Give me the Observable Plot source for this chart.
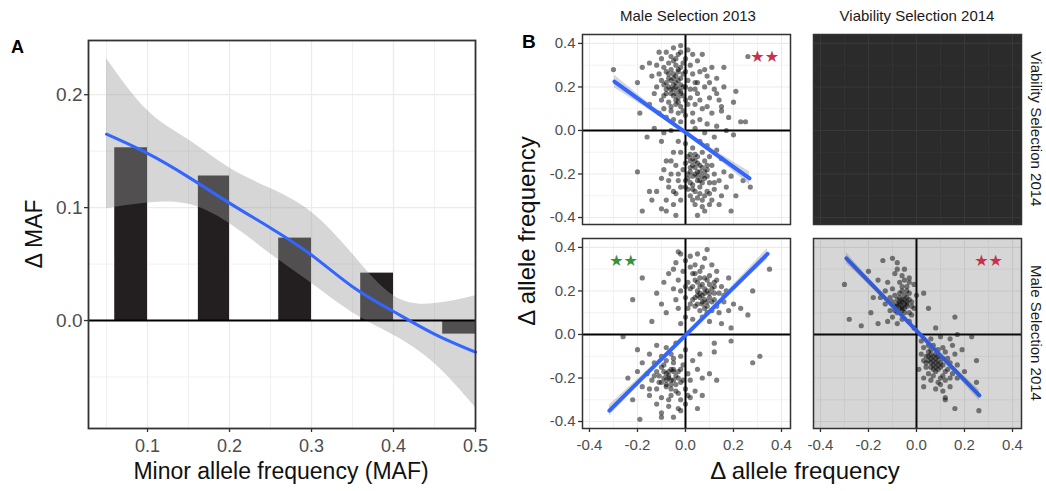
<!DOCTYPE html>
<html><head><meta charset="utf-8">
<script src="https://cdn.jsdelivr.net/npm/d3@7"></script>
<script src="https://cdn.jsdelivr.net/npm/@observablehq/plot@0.6"></script>
<style>
body{margin:0;background:#fff;}
#root{position:relative;width:1046px;height:491px;overflow:hidden;background:#fff;font-family:"Liberation Sans",Arial,sans-serif;}
#root svg{position:absolute;overflow:visible;}
</style></head><body><div id="root"></div>
<script>
// ---------- Panel A data ----------
const barStart = [0.06, 0.162, 0.26, 0.36, 0.46];
const barEnd   = [0.10, 0.20, 0.30, 0.40, 0.50];
const barDeltaMAF = [0.153, 0.128, 0.073, 0.042, -0.012];
const smoothX  = [0.05, 0.10, 0.15, 0.20, 0.25, 0.30, 0.35, 0.40, 0.45, 0.50];
const smoothY  = [0.165, 0.148, 0.127, 0.104, 0.082, 0.058, 0.030, 0.008, -0.012, -0.028];
const smoothHi = [0.232, 0.186, 0.160, 0.135, 0.117, 0.096, 0.059, 0.022, 0.015, 0.022];
const smoothLo = [0.099, 0.104, 0.103, 0.086, 0.059, 0.033, 0.007, -0.013, -0.038, -0.077];
const aTicksX = [0.1, 0.2, 0.3, 0.4, 0.5];
const aMinorX = [0.05, 0.15, 0.25, 0.35, 0.45];
const aTicksY = [0.0, 0.1, 0.2];
const aMinorY = [-0.05, 0.05, 0.15];

// ---------- Panel B data ----------
const colTitles = ["Male Selection 2013", "Viability Selection 2014"];
const rowTitles = ["Viability Selection 2014", "Male Selection 2014"];
const bTicks = [-0.4, -0.2, 0.0, 0.2, 0.4];
const bMinor = [-0.3, -0.1, 0.1, 0.3];

// x = Male Selection 2013, y = Viability Selection 2014
const tlPoints = [
[-0.08,0.36],[-0.05,0.38],[-0.02,0.39],[0.01,0.37],[-0.1,0.33],[-0.06,0.34],[-0.03,0.35],[0.0,0.33],[0.03,0.35],[-0.12,0.3],[-0.09,0.29],[-0.07,0.31],[-0.04,0.3],[-0.01,0.31],[0.02,0.3],
[-0.11,0.26],[-0.08,0.27],[-0.05,0.26],[-0.03,0.28],[0.0,0.27],[0.03,0.26],[-0.1,0.23],[-0.07,0.24],[-0.04,0.22],[-0.02,0.24],[0.01,0.23],[0.04,0.22],
[-0.12,0.2],[-0.09,0.21],[-0.06,0.19],[-0.04,0.2],[-0.02,0.18],[0.0,0.2],[0.02,0.19],[-0.08,0.17],[-0.05,0.16],[-0.03,0.15],[-0.01,0.16],[0.02,0.15],
[-0.1,0.14],[-0.07,0.13],[-0.04,0.12],[-0.02,0.11],[0.01,0.12],[-0.09,0.1],[-0.06,0.09],[-0.03,0.08],[0.0,0.07],[-0.05,0.05],[-0.02,0.04],[-0.08,0.06],[-0.11,0.08],
[-0.13,0.17],[-0.14,0.25],[-0.06,0.28],[-0.04,0.25],[-0.05,0.21],[-0.03,0.19],[-0.07,0.2],[-0.02,0.21],[-0.06,0.23],[-0.01,0.26],[-0.04,0.17],
[-0.05,0.24],[-0.03,0.23],[-0.05,0.19],[-0.02,0.17],[-0.04,0.14],[-0.06,0.17],[-0.01,0.2],[-0.03,0.27],[-0.07,0.26],[-0.02,0.29],[-0.05,0.32],[-0.08,0.22],[-0.03,0.13],[-0.06,0.11],[-0.01,0.09],[0.0,0.14],[-0.08,0.19],[-0.04,0.33],[-0.09,0.16],[-0.02,0.36],
[0.05,0.32],[0.07,0.35],[0.11,0.29],[0.16,0.29],[0.06,0.27],[0.09,0.25],[0.13,0.24],[0.05,0.22],[0.08,0.2],[0.12,0.19],[0.16,0.2],[0.21,0.18],[0.05,0.17],[0.1,0.15],[0.14,0.14],[0.2,0.13],[0.04,0.12],[0.07,0.1],[0.11,0.08],[0.15,0.09],[0.18,0.06],[0.06,0.05],[0.09,0.03],[0.13,0.02],[0.17,0.0],[0.23,0.04],[0.25,0.04],[0.04,0.01],[0.08,-0.01],[0.12,-0.03],[0.2,-0.02],[0.03,0.08],
[0.08,0.28],[0.1,0.22],[0.04,0.19],[0.06,0.14],[0.13,0.17],[0.09,0.11],[0.03,0.04],[0.15,0.11],
[-0.3,0.28],[-0.18,0.29],[-0.15,0.31],[-0.2,0.22],[-0.19,0.08],[-0.16,-0.03],[-0.13,0.01],[-0.11,0.36],[-0.15,0.12],[0.26,0.34],
[0.0,-0.06],[0.03,-0.08],[0.06,-0.05],[0.09,-0.07],[-0.02,-0.1],[0.01,-0.12],[0.04,-0.11],[0.07,-0.1],[0.1,-0.12],[0.13,-0.09],[0.0,-0.15],[0.02,-0.14],[0.05,-0.15],[0.08,-0.14],[0.11,-0.16],[0.15,-0.13],
[-0.01,-0.18],[0.02,-0.19],[0.04,-0.17],[0.06,-0.19],[0.09,-0.18],[0.12,-0.2],[0.16,-0.19],[0.01,-0.22],[0.03,-0.21],[0.05,-0.23],[0.08,-0.22],[0.1,-0.24],[0.14,-0.23],[0.19,-0.21],
[0.0,-0.26],[0.03,-0.27],[0.06,-0.26],[0.09,-0.28],[0.12,-0.27],[0.17,-0.26],[0.02,-0.3],[0.05,-0.31],[0.08,-0.3],[0.11,-0.32],[0.15,-0.3],[0.04,-0.34],[0.07,-0.35],[0.1,-0.34],[0.14,-0.34],[0.05,-0.39],[0.19,-0.37],[0.08,-0.37],
[0.03,-0.16],[0.04,-0.2],[0.06,-0.16],[0.02,-0.24],[0.07,-0.24],[0.27,-0.26],[0.24,-0.23],[0.21,-0.3],[0.05,-0.19],[0.07,-0.21],[0.03,-0.13],
[0.02,-0.17],[0.04,-0.14],[0.05,-0.21],[0.03,-0.25],[0.06,-0.23],[0.01,-0.2],[0.08,-0.19],[0.07,-0.17],[0.04,-0.28],[0.06,-0.29],[0.02,-0.11],[0.05,-0.12],[0.09,-0.21],[0.01,-0.27],[0.1,-0.29],[0.03,-0.32],[0.07,-0.32],[0.0,-0.23],[0.09,-0.16],[0.12,-0.24],
[-0.03,-0.05],[-0.05,-0.1],[-0.08,-0.14],[-0.04,-0.16],[-0.06,-0.2],[-0.1,-0.22],[-0.03,-0.23],[-0.07,-0.26],[-0.12,-0.28],[-0.04,-0.29],[-0.08,-0.32],[-0.14,-0.32],[-0.05,-0.34],[-0.1,-0.36],[-0.04,-0.39],[-0.2,-0.19],[-0.18,-0.37],[-0.15,-0.28],[-0.02,-0.32],[-0.09,-0.18],[-0.1,-0.05],[-0.06,0.0],[-0.09,-0.01],
[-0.07,-0.23],[-0.05,-0.28],[-0.02,-0.26],[-0.06,-0.14],[-0.03,-0.2],[-0.08,-0.37]
];
// x = Male Selection 2013, y = Male Selection 2014
const blPoints = [
[-0.02,0.37],[0.02,0.36],[0.05,0.37],[0.08,0.35],[-0.04,0.33],[0.0,0.34],[0.04,0.32],[0.07,0.31],[0.11,0.32],[-0.05,0.3],[-0.01,0.29],[0.03,0.28],[0.06,0.29],[0.1,0.27],[0.13,0.29],
[-0.03,0.25],[0.01,0.24],[0.04,0.25],[0.07,0.23],[0.09,0.25],[0.12,0.24],[0.15,0.22],[-0.05,0.21],[-0.02,0.2],[0.02,0.21],[0.05,0.2],[0.08,0.19],[0.11,0.21],[0.14,0.19],[0.17,0.2],
[-0.04,0.16],[0.0,0.17],[0.03,0.16],[0.06,0.17],[0.09,0.15],[0.12,0.16],[0.16,0.15],[0.2,0.14],[-0.03,0.12],[0.01,0.12],[0.04,0.13],[0.06,0.11],[0.08,0.12],[0.11,0.11],[0.14,0.1],[0.18,0.11],
[0.0,0.08],[0.03,0.07],[0.07,0.08],[0.1,0.06],[0.15,0.05],[-0.02,0.05],[0.05,0.14],[0.07,0.18],[0.09,0.2],[0.06,0.22],[0.1,0.17],[0.13,0.13],[0.08,0.16],[0.05,0.18],[0.12,0.19],[0.07,0.14],
[0.06,0.19],[0.08,0.21],[0.1,0.19],[0.04,0.17],[0.07,0.15],[0.09,0.13],[0.11,0.15],[0.03,0.22],[0.05,0.24],[0.08,0.26],[0.12,0.22],[0.1,0.23],[0.04,0.28],[0.02,0.14],[0.06,0.26],[0.13,0.25],[0.02,0.31],[0.0,0.22],[0.09,0.1],[0.16,0.18],
[0.18,0.26],[0.23,0.12],[0.26,0.09],[0.28,0.2],[0.35,0.3],[0.19,0.03],[0.12,-0.08],[0.19,-0.03],[0.31,-0.1],[0.28,-0.13],[0.13,-0.21],[0.09,0.39],[-0.03,0.38],
[-0.22,0.16],[-0.18,0.26],[-0.14,0.06],[-0.12,0.19],[-0.09,0.24],[-0.1,0.14],[-0.07,0.28],[-0.08,0.1],
[-0.12,-0.05],[-0.08,-0.06],[-0.04,-0.04],[-0.15,-0.09],[-0.1,-0.1],[-0.06,-0.09],[-0.02,-0.1],[-0.18,-0.13],[-0.13,-0.13],[-0.09,-0.14],[-0.05,-0.13],[-0.01,-0.14],[0.03,-0.12],
[-0.2,-0.17],[-0.16,-0.18],[-0.12,-0.17],[-0.08,-0.18],[-0.06,-0.16],[-0.03,-0.17],[0.01,-0.18],[0.05,-0.16],[-0.14,-0.21],[-0.1,-0.22],[-0.07,-0.2],[-0.05,-0.21],[-0.02,-0.22],[0.02,-0.21],[0.07,-0.2],
[-0.18,-0.24],[-0.12,-0.25],[-0.08,-0.24],[-0.04,-0.26],[0.0,-0.25],[0.04,-0.26],[-0.15,-0.28],[-0.1,-0.29],[-0.06,-0.28],[-0.02,-0.3],[0.02,-0.29],[-0.12,-0.32],[-0.07,-0.33],[-0.03,-0.34],[0.0,-0.32],
[-0.1,-0.36],[-0.05,-0.38],[-0.19,-0.39],[-0.1,-0.38],[0.05,-0.34],[-0.22,-0.3],[-0.24,-0.2],[-0.26,-0.01],[-0.2,-0.07],[-0.09,-0.2],[-0.07,-0.17],[-0.04,-0.19],[-0.06,-0.23],[-0.08,-0.21],[-0.05,-0.17],[-0.11,-0.19],
[-0.07,-0.19],[-0.05,-0.16],[-0.09,-0.17],[-0.03,-0.2],[-0.06,-0.21],[-0.08,-0.23],[-0.04,-0.23],[-0.1,-0.15],[-0.02,-0.16],[-0.06,-0.25],[-0.11,-0.22],[-0.03,-0.27],[-0.07,-0.3],[-0.01,-0.21],[-0.13,-0.19],[-0.05,-0.11],[-0.08,-0.12],[-0.02,-0.35],[0.01,-0.28],[-0.15,-0.25],
[0.06,-0.09],[0.1,-0.18],[0.07,-0.28],[0.12,-0.04],[0.0,-0.07]
];
// x = Viability Selection 2014, y = Male Selection 2014
const brPoints = [
[-0.1,0.35],[-0.08,0.33],[-0.05,0.3],[-0.09,0.28],[-0.06,0.27],[-0.03,0.26],[-0.12,0.24],[-0.07,0.24],[-0.04,0.22],[-0.01,0.23],[-0.13,0.2],[-0.1,0.21],[-0.06,0.2],[-0.03,0.19],[0.0,0.18],
[-0.15,0.17],[-0.11,0.17],[-0.08,0.16],[-0.05,0.16],[-0.02,0.15],[-0.13,0.14],[-0.09,0.13],[-0.07,0.14],[-0.04,0.13],[-0.01,0.12],[-0.11,0.11],[-0.08,0.1],[-0.06,0.11],[-0.03,0.1],[-0.1,0.08],[-0.06,0.07],[-0.03,0.06],[-0.08,0.05],[-0.12,0.06],
[-0.05,0.12],[-0.07,0.12],[-0.06,0.15],[-0.04,0.17],[-0.09,0.18],[-0.02,0.09],[-0.01,0.03],[-0.05,0.14],[-0.08,0.13],[-0.06,0.13],[-0.04,0.15],[-0.07,0.17],
[-0.06,0.16],[-0.05,0.18],[-0.07,0.15],[-0.04,0.14],[-0.06,0.12],[-0.08,0.14],[-0.03,0.16],[-0.05,0.1],[-0.09,0.11],[-0.07,0.19],[-0.04,0.2],[-0.1,0.15],[-0.02,0.13],[-0.06,0.22],[-0.03,0.24],[-0.08,0.3],[-0.05,0.25],
[-0.3,0.23],[-0.28,0.07],[-0.23,0.04],[-0.2,0.29],[-0.14,0.34],[-0.19,0.1],[-0.16,0.05],[0.03,0.19],[0.05,0.12],[0.16,0.08],[0.08,0.03],[-0.16,0.25],[-0.18,0.17],
[0.02,-0.03],[0.06,-0.02],[0.1,-0.01],[0.14,-0.02],[0.17,0.0],[0.03,-0.06],[0.07,-0.05],[0.11,-0.06],[0.15,-0.05],[0.02,-0.09],[0.05,-0.08],[0.08,-0.09],[0.12,-0.08],[0.16,-0.09],
[0.03,-0.12],[0.06,-0.11],[0.09,-0.12],[0.11,-0.11],[0.14,-0.13],[0.04,-0.15],[0.07,-0.14],[0.1,-0.15],[0.13,-0.16],[0.17,-0.14],[0.05,-0.18],[0.08,-0.17],[0.11,-0.19],[0.15,-0.18],
[0.06,-0.21],[0.09,-0.22],[0.12,-0.21],[0.17,-0.2],[0.08,-0.25],[0.11,-0.26],[0.14,-0.24],[0.12,-0.29],[0.06,-0.13],[0.08,-0.11],[0.05,-0.1],[0.07,-0.16],[0.09,-0.14],[0.1,-0.1],[0.07,-0.12],[0.09,-0.1],[0.06,-0.15],
[0.07,-0.1],[0.08,-0.13],[0.06,-0.09],[0.09,-0.16],[0.05,-0.12],[0.1,-0.13],[0.04,-0.1],[0.08,-0.15],[0.11,-0.14],[0.06,-0.07],[0.12,-0.17],[0.07,-0.19],[0.1,-0.2],[0.04,-0.13],[0.13,-0.11],[0.09,-0.07],[0.14,-0.2],[0.1,-0.23],[0.05,-0.05],
[0.26,-0.35],[0.16,-0.34],[0.12,-0.3],[0.25,-0.22],[0.25,-0.12],[0.03,-0.24],[0.03,-0.2],[0.23,-0.01],[0.19,-0.07],[0.2,-0.17],[0.01,-0.16]
];
// linear fits with confidence band
const tlFit = {x:[-0.296,-0.15,0,0.13,0.267], y:[0.225,0.109,-0.009,-0.112,-0.22], lo:[0.195,0.094,-0.019,-0.127,-0.25], hi:[0.255,0.124,0.001,-0.097,-0.19]};
const blFit = {x:[-0.317,-0.15,0,0.17,0.342], y:[-0.35,-0.1675,-0.004,0.182,0.37], lo:[-0.375,-0.18,-0.012,0.169,0.345], hi:[-0.325,-0.155,0.004,0.195,0.395]};
const brFit = {x:[-0.292,-0.15,0,0.13,0.262], y:[0.35,0.1885,0.018,-0.13,-0.28], lo:[0.325,0.176,0.01,-0.142,-0.305], hi:[0.375,0.201,0.026,-0.118,-0.255]};
// significance annotations
const starLabels = {tl:"★★", bl:"★★", br:"★★"};
const starX = {tl:0.33, bl:-0.258, br:0.30};
const starY = {tl:0.336, bl:0.34, br:0.336};
const starSign = {tl:-1, bl:1, br:-1};

// ---------- drawing ----------
const root = document.getElementById("root");
const FONT = '"Liberation Sans", Arial, sans-serif';
const TICK = "#4d4d4d";
const fmt1 = d => d.toFixed(1);

// Panel A
const A = {left: 88, top: 40, w: 387, h: 388};
const bars = barStart.map((s, i) => ({x1: s, x2: barEnd[i], v: barDeltaMAF[i]}));
const smooth = smoothX.map((x, i) => ({x, y: smoothY[i], lo: smoothLo[i], hi: smoothHi[i]}));
const aSvg = Plot.plot({
  width: A.left + A.w + 25, height: A.top + A.h + 63,
  marginLeft: A.left, marginRight: 25, marginTop: A.top, marginBottom: 63,
  x: {domain: [0.028, 0.5]}, y: {domain: [-0.0956, 0.248]},
  style: {background: "transparent", fontFamily: FONT},
  marks: [
    Plot.gridX(aMinorX, {stroke: "#ebebeb", strokeOpacity: 1, strokeWidth: 0.7}),
    Plot.gridX(aTicksX, {stroke: "#ebebeb", strokeOpacity: 1, strokeWidth: 1.3}),
    Plot.gridY(aMinorY, {stroke: "#ebebeb", strokeOpacity: 1, strokeWidth: 0.7}),
    Plot.gridY(aTicksY, {stroke: "#ebebeb", strokeOpacity: 1, strokeWidth: 1.3}),
    Plot.rectY(bars, {x1: "x1", x2: "x2", y: "v", fill: "#231f20"}),
    Plot.areaY(smooth, {x: "x", y1: "lo", y2: "hi", fill: "#999999", fillOpacity: 0.4, curve: "natural"}),
    Plot.ruleY([0], {stroke: "#000", strokeWidth: 2}),
    Plot.line(smooth, {x: "x", y: "y", stroke: "#3366FF", strokeWidth: 3, curve: "natural"}),
    Plot.frame({stroke: "#333", strokeWidth: 1.8}),
    Plot.axisX(aTicksX, {tickSize: 4, tickPadding: 7, fontSize: 18, fill: TICK, stroke: "#333", strokeWidth: 1.3, tickFormat: fmt1, label: null}),
    Plot.axisY(aTicksY, {tickSize: 4, tickPadding: 2, fontSize: 19, fill: TICK, stroke: "#333", strokeWidth: 1.3, tickFormat: fmt1, label: null})
  ]
});
aSvg.style.left = "0px"; aSvg.style.top = "0px";
root.appendChild(aSvg);

// Panel B facets
const PW = 208, PH = 190;
const xDom = [-0.429, 0.4375], yDom = [-0.432, 0.441];
function toRows(f) { return f.x.map((x, i) => ({x, y: f.y[i], lo: f.lo[i], hi: f.hi[i]})); }

function facet(cfg) {
  const ml = cfg.showY ? 50 : 3, mb = cfg.showX ? 34 : 3, mt = 3, mr = 3;
  const gridC = cfg.empty ? "#383838" : "#ebebeb";
  const marks = [];
  if (cfg.empty) marks.push(Plot.frame({fill: "#2b2b2b", stroke: "none"}));
  marks.push(
    Plot.gridX(bMinor, {stroke: gridC, strokeOpacity: 1, strokeWidth: 0.6}),
    Plot.gridX(bTicks, {stroke: gridC, strokeOpacity: 1, strokeWidth: 1.1}),
    Plot.gridY(bMinor, {stroke: gridC, strokeOpacity: 1, strokeWidth: 0.6}),
    Plot.gridY(bTicks, {stroke: gridC, strokeOpacity: 1, strokeWidth: 1.1})
  );
  if (!cfg.empty) {
    const fit = toRows(cfg.fit);
    marks.push(
      Plot.dot(cfg.points, {x: d => d[0], y: d => d[1], r: 2.6, fill: "#000", fillOpacity: 0.5, stroke: "none"}),
      Plot.ruleX([0], {stroke: "#000", strokeWidth: 2}),
      Plot.ruleY([0], {stroke: "#000", strokeWidth: 2}),
      Plot.areaY(fit, {x: "x", y1: "lo", y2: "hi", fill: "#999999", fillOpacity: 0.4, curve: "natural"}),
      Plot.line(fit, {x: "x", y: "y", stroke: "#3366FF", strokeWidth: 4})
    );
  }
  if (cfg.shade) marks.push(Plot.frame({fill: "#333", fillOpacity: 0.2, stroke: "none"}));
  if (cfg.star) {
    const k = cfg.star;
    marks.push(Plot.text([k], {x: d => starX[d], y: d => starY[d], text: d => starLabels[d],
      fill: starSign[k] > 0 ? "#3a8f3a" : "#c9304f", fontSize: 16, fontFamily: "DejaVu Sans", letterSpacing: 1}));
  }
  marks.push(Plot.frame({stroke: "#333", strokeWidth: 1.5}));
  if (cfg.showY) marks.push(Plot.axisY(bTicks, {tickSize: 4, tickPadding: 3, fontSize: 15, fill: TICK, stroke: "#333", strokeWidth: 1.3, tickFormat: fmt1, label: null}));
  if (cfg.showX) marks.push(Plot.axisX(bTicks, {tickSize: 4, tickPadding: 7, fontSize: 15, fill: TICK, stroke: "#333", strokeWidth: 1.3, tickFormat: fmt1, label: null}));
  const svg = Plot.plot({
    width: PW + ml + mr, height: PH + mt + mb,
    marginLeft: ml, marginRight: mr, marginTop: mt, marginBottom: mb,
    x: {domain: xDom, axis: cfg.showX ? undefined : null},
    y: {domain: yDom, axis: cfg.showY ? undefined : null},
    style: {background: "transparent", fontFamily: FONT},
    marks
  });
  svg.style.left = (cfg.left - ml) + "px";
  svg.style.top = (cfg.top - mt) + "px";
  root.appendChild(svg);
}
const colLeft = [582, 813], rowTop = [34, 238];
facet({left: colLeft[0], top: rowTop[0], points: tlPoints, fit: tlFit, star: "tl", showY: true});
facet({left: colLeft[1], top: rowTop[0], empty: true});
facet({left: colLeft[0], top: rowTop[1], points: blPoints, fit: blFit, star: "bl", showY: true, showX: true});
facet({left: colLeft[1], top: rowTop[1], points: brPoints, fit: brFit, star: "br", showX: true, shade: true});

// Text overlay
const ov = d3.select(root).append("svg").attr("width", 1046).attr("height", 491)
  .style("left", "0px").style("top", "0px").style("pointer-events", "none")
  .attr("font-family", FONT);
function txt(s, x, y, o = {}) {
  const t = ov.append("text").text(s).attr("x", 0).attr("y", 0)
    .attr("transform", `translate(${x},${y})` + (o.rot ? ` rotate(${o.rot})` : ""))
    .attr("text-anchor", o.anchor || "middle")
    .attr("font-size", o.size || 15).attr("fill", o.fill || "#1a1a1a");
  if (o.bold) t.attr("font-weight", "bold");
  return t;
}
txt("A", 11, 53, {anchor: "start", size: 18, bold: true, fill: "#000"});
txt("B", 522, 48, {anchor: "start", size: 19, bold: true, fill: "#000"});
txt("Δ MAF", 42, 234, {rot: -90, size: 23, fill: "#111"});
txt("Minor allele frequency (MAF)", 281, 479, {size: 23, fill: "#111"});
txt("Δ allele frequency", 535, 231, {rot: -90, size: 24, fill: "#111"});
txt("Δ allele frequency", 805, 479, {size: 24, fill: "#111"});
txt(colTitles[0], colLeft[0] + PW / 2 + 2, 21, {size: 15});
txt(colTitles[1], colLeft[1] + PW / 2, 21, {size: 15});
txt(rowTitles[0], 1031, rowTop[0] + PH / 2, {rot: 90, size: 15});
txt(rowTitles[1], 1031, rowTop[1] + PH / 2, {rot: 90, size: 15});
</script></body></html>
